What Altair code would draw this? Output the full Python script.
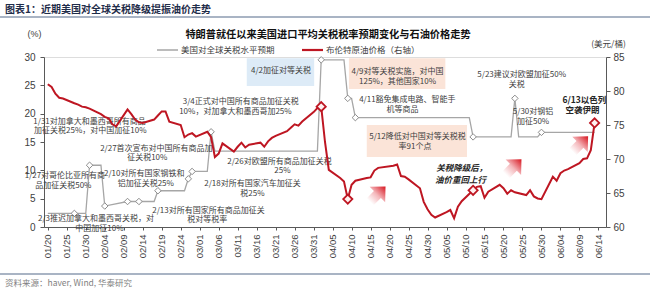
import altair as alt
import pandas as pd

# ---------------- data ----------------
oil_dates = [
    "2025-01-20", "2025-01-21", "2025-01-22", "2025-01-23", "2025-01-24",
    "2025-01-27", "2025-01-28", "2025-01-29", "2025-01-30", "2025-01-31",
    "2025-02-03", "2025-02-04", "2025-02-05", "2025-02-06", "2025-02-07",
    "2025-02-10", "2025-02-11", "2025-02-12", "2025-02-13", "2025-02-14",
    "2025-02-17", "2025-02-18", "2025-02-19", "2025-02-20", "2025-02-21",
    "2025-02-24", "2025-02-25", "2025-02-26", "2025-02-27", "2025-02-28",
    "2025-03-03", "2025-03-04", "2025-03-05", "2025-03-06", "2025-03-07",
    "2025-03-10", "2025-03-11", "2025-03-12", "2025-03-13", "2025-03-14",
    "2025-03-17", "2025-03-18", "2025-03-19", "2025-03-20", "2025-03-21",
    "2025-03-24", "2025-03-25", "2025-03-26", "2025-03-27", "2025-03-28",
    "2025-03-31", "2025-04-01", "2025-04-02", "2025-04-03", "2025-04-04",
    "2025-04-07", "2025-04-08", "2025-04-09", "2025-04-10", "2025-04-11",
    "2025-04-14", "2025-04-15", "2025-04-16", "2025-04-17",
    "2025-04-21", "2025-04-22", "2025-04-23", "2025-04-24", "2025-04-25",
    "2025-04-28", "2025-04-29", "2025-04-30", "2025-05-01", "2025-05-02",
    "2025-05-05", "2025-05-06", "2025-05-07", "2025-05-08", "2025-05-09",
    "2025-05-12", "2025-05-13", "2025-05-14", "2025-05-15", "2025-05-16",
    "2025-05-19", "2025-05-20", "2025-05-21", "2025-05-22", "2025-05-23",
    "2025-05-26", "2025-05-27", "2025-05-28", "2025-05-29", "2025-05-30",
    "2025-06-02", "2025-06-03", "2025-06-04", "2025-06-05", "2025-06-06",
    "2025-06-09", "2025-06-10", "2025-06-11", "2025-06-12", "2025-06-13",
]
oil_values = [
    81.0, 80.6, 79.6, 79.0, 78.9,
    78.2, 78.0, 77.7, 77.6, 77.4,
    76.6, 76.2, 76.0, 75.1, 74.8,
    77.3, 76.6, 75.8, 75.4, 75.3,
    75.8, 76.4, 77.0, 77.0, 75.5,
    75.0, 73.2, 73.6, 73.8, 73.3,
    74.0, 73.2, 70.3, 70.8, 72.3,
    71.1, 71.8, 72.4, 71.7, 72.1,
    72.4, 71.8, 72.6, 73.1, 73.4,
    74.1, 74.6, 75.1, 74.9, 75.5,
    76.9, 77.5, 77.7, 72.5, 68.4,
    67.2, 66.7, 64.1, 66.2, 66.8,
    67.2, 67.3, 68.3, 68.7,
    69.0, 69.2, 67.5, 67.4, 67.0,
    65.7, 63.7, 62.6, 61.8, 61.4,
    62.2, 62.5, 61.3, 63.0, 63.8,
    65.4, 65.9, 66.0, 64.3, 65.2,
    66.2, 65.7, 64.9, 65.4, 65.1,
    64.7, 65.4, 64.5, 64.2, 64.1,
    67.4, 66.8, 67.9, 68.3, 68.5,
    69.4, 70.0, 70.1, 71.3, 75.3,
]
oil_marker_dates = ["2025-04-02", "2025-04-09", "2025-05-12", "2025-06-13"]

tariff_dates = [
    "2025-01-20", "2025-01-27", "2025-01-30", "2025-01-31", "2025-02-03",
    "2025-02-04", "2025-02-10", "2025-02-13", "2025-02-17", "2025-02-18",
    "2025-02-25", "2025-02-26", "2025-02-27", "2025-03-03", "2025-03-04",
    "2025-03-05", "2025-04-01", "2025-04-02", "2025-04-08", "2025-04-09",
    "2025-04-10", "2025-04-11", "2025-05-11", "2025-05-12", "2025-05-22",
    "2025-05-23", "2025-05-24", "2025-05-29", "2025-05-30", "2025-06-13",
]
tariff_values = [
    2.4, 2.4, 2.4, 10.9, 10.9,
    3.7, 4.5, 4.5, 4.5, 6.4,
    6.4, 8.5, 9.8, 9.8, 16.8,
    13.4, 13.4, 29.5, 29.5, 22.7,
    22.7, 19.3, 19.3, 15.9, 15.9,
    22.7, 15.9, 15.9, 16.7, 16.7,
]
tariff_marker_dates = [
    "2025-01-27", "2025-01-31", "2025-02-04", "2025-02-10", "2025-02-13",
    "2025-02-18", "2025-02-26", "2025-02-27", "2025-03-04", "2025-04-02",
    "2025-04-09", "2025-04-11", "2025-05-12", "2025-05-23", "2025-05-30",
]

tick_dates = [
    "2025-01-20", "2025-01-25", "2025-01-30", "2025-02-04", "2025-02-09",
    "2025-02-14", "2025-02-19", "2025-02-24", "2025-03-01", "2025-03-06",
    "2025-03-11", "2025-03-16", "2025-03-21", "2025-03-26", "2025-03-31",
    "2025-04-05", "2025-04-10", "2025-04-15", "2025-04-20", "2025-04-25",
    "2025-04-30", "2025-05-05", "2025-05-10", "2025-05-15", "2025-05-20",
    "2025-05-25", "2025-05-30", "2025-06-04", "2025-06-09", "2025-06-14",
]
left_ticks = [0, 5, 10, 15, 20, 25, 30]
right_ticks = [60, 65, 70, 75, 80, 85]

# annotations: (days after 01/20, left-axis value, text)
notes_normal = [
    (11.0, 18.5, "1/31对加拿大和墨西哥所有商品"),
    (11.2, 16.9, "加征关税25%，对中国加征10%"),
    (28.6, 13.8, "2/27首次宣布对中国所有商品加"),
    (26.2, 12.2, "征关税10%"),
    (4.5, 9.0, "1/27对哥伦比亚所有商"),
    (4.1, 7.2, "品加征关税50%"),
    (25.4, 9.35, "2/10对所有国家钢铁和"),
    (25.8, 7.6, "铝加征关税25%"),
    (12.7, 1.4, "2/3推迟加拿大和墨西哥关税，对"),
    (13.6, -0.35, "中国加征10%"),
    (42.3, 2.8, "2/13对所有国家所有商品加征关"),
    (42.0, 1.2, "税对等税率"),
    (53.9, 7.6, "2/18对所有国家汽车加征关"),
    (53.9, 5.9, "税25%"),
    (61.0, 11.5, "2/26对欧盟所有商品加征关税"),
    (61.8, 9.9, "25%"),
    (50.8, 22.1, "3/4正式对中国所有商品加征关税"),
    (49.4, 20.3, "10%，对加拿大和墨西哥加25%"),
    (61.4, 27.6, "4/2加征对等关税"),
    (92.1, 27.35, "4/9对等关税实施，对中国"),
    (92.1, 25.6, "125%，其他国家10%"),
    (94.7, 22.4, "4/11豁免集成电路、智能手"),
    (93.4, 20.7, "机等商品"),
    (97.35, 15.9, "5/12降低对中国对等关税税"),
    (96.7, 14.1, "率91个点"),
    (124.8, 26.8, "5/23建议对欧盟加征50%"),
    (123.5, 25.0, "关税"),
    (127.8, 20.3, "5/30对钢铝"),
    (127.8, 18.5, "加征50%"),
]
notes_bold = [
    (141.3, 22.4, "6/13以色列"),
    (140.8, 20.65, "空袭伊朗"),
]
notes_italic = [
    (102.3, 10.4, "关税降级后，"),
    (101.95, 8.3, "油价重回上行"),
]
# shaded boxes: (start day, end day, low, high, colour)
boxes = [
    (52.4, 70.15, 24.9, 29.8, "#DDEBF7"),
    (79.3, 104.7, 24.35, 29.8, "#FBE4D8"),
    (84.0, 110.4, 12.35, 18.0, "#FBE4D8"),
]
# decorative arrows: (day, left-axis value)
arrows = [(86.9, 5.8), (122.7, 10.6), (140.25, 14.65)]

# ---------------- helpers ----------------
BASE = pd.Timestamp("2025-01-20")
FONT = "Noto Sans CJK SC"
RED = "#BE1622"
GRAY = "#A6A6A6"
TXT = "#404040"


def iso(day):
    return (BASE + pd.Timedelta(days=day)).strftime("%Y-%m-%dT%H:%M:%SZ")


def ms(s):
    return int(pd.Timestamp(s).value // 10**6)


xscale = alt.Scale(type="utc", domain=[ms("2025-01-19"), ms("2025-06-16")])
yL = alt.Scale(domain=[0, 30], nice=False, zero=False)
yR = alt.Scale(domain=[60, 85], nice=False, zero=False)

xaxis = alt.Axis(values=[ms(d) for d in tick_dates],
                 labelExpr="utcFormat(datum.value, '%m/%d')",
                 labelAngle=-90, labelFontSize=9.5, labelColor=TXT, labelFont="Liberation Sans",
                 tickSize=3, labelPadding=4, domainColor="#595959", tickColor="#595959",
                 grid=False, title=None, labelOverlap=False)
laxis = alt.Axis(values=left_ticks, orient="left", labelFontSize=10, labelColor=TXT,
                 labelFont="Liberation Sans", tickSize=4, labelPadding=5,
                 domainColor="#595959", tickColor="#595959", grid=False,
                 title="(%)", titleAngle=0, titleX=-10, titleY=-24, titleAlign="center",
                 titleBaseline="middle", titleFontWeight="normal", titleFontSize=9,
                 titleColor=TXT, titleFont="Liberation Sans")
raxis = alt.Axis(values=right_ticks, orient="right", labelFontSize=10, labelColor=TXT,
                 labelFont="Liberation Sans", tickSize=4, labelPadding=3,
                 domainColor="#595959", tickColor="#595959", grid=False,
                 title="(美元/桶)", titleAngle=0, titleX=2, titleY=-14, titleAlign="center",
                 titleBaseline="middle", titleFontWeight="normal", titleFontSize=8.5,
                 titleColor=TXT, titleFont=FONT)

oil_df = pd.DataFrame({"date": oil_dates, "value": oil_values})
oil_mk = oil_df[oil_df["date"].isin(oil_marker_dates)]
tar_df = pd.DataFrame({"date": tariff_dates, "value": tariff_values})
tar_mk = tar_df[tar_df["date"].isin(tariff_marker_dates)]


def note_df(notes):
    return pd.DataFrame({"x": [iso(n[0]) for n in notes],
                         "y": [n[1] for n in notes],
                         "text": [n[2] for n in notes]})


box_df = pd.DataFrame({"x1": [iso(b[0]) for b in boxes], "x2": [iso(b[1]) for b in boxes],
                       "y1": [b[2] for b in boxes], "y2": [b[3] for b in boxes],
                       "c": [b[4] for b in boxes]})
arrow_df = pd.DataFrame({"x": [iso(a[0]) for a in arrows], "y": [a[1] for a in arrows]})


def XX(f):
    return alt.X(f, scale=xscale, axis=xaxis)


def YL(f):
    return alt.Y(f, scale=yL, axis=laxis)


def YR(f):
    return alt.Y(f, scale=yR, axis=raxis)


# ---------------- left-axis layers ----------------
box_layer = alt.Chart(box_df).mark_rect().encode(
    x=XX("x1:T"), x2="x2:T", y=YL("y1:Q"), y2="y2:Q",
    color=alt.Color("c:N", scale=None))

tar_line = alt.Chart(tar_df).mark_line(color=GRAY, strokeWidth=1.3).encode(
    x=XX("date:T"), y=YL("value:Q"))
tar_pts = alt.Chart(tar_mk).mark_point(shape="diamond", filled=True, fill="white",
                                       stroke="#8C8C8C", strokeWidth=1, size=42, opacity=1).encode(
    x=XX("date:T"), y=YL("value:Q"))


def text_layer(notes, **kw):
    return alt.Chart(note_df(notes)).mark_text(font=FONT, baseline="middle", **kw).encode(
        x=XX("x:T"), y=YL("y:Q"), text="text:N")


t_norm = text_layer(notes_normal, fontSize=8, color=TXT, align="center")
t_bold = text_layer(notes_bold, fontSize=8.5, color="#262626", fontWeight="bold", align="center")
t_ital = text_layer(notes_italic, fontSize=8.5, color="#262626", fontWeight="bold",
                    fontStyle="italic", align="left")

arrow_shape = "M -0.45 1 L -0.45 0.05 L -1 0.05 L 0 -1 L 1 0.05 L 0.45 0.05 L 0.45 1 Z"
grad = alt.Gradient(gradient="linear", x1=0, y1=1, x2=0, y2=0,
                    stops=[alt.GradientStop(offset=0, color="#FFFFFF"),
                           alt.GradientStop(offset=0.45, color="#F4B7BB"),
                           alt.GradientStop(offset=1, color="#D7141E")])
arrow_layer = alt.Chart(arrow_df).mark_point(shape=arrow_shape, filled=True, fill=grad,
                                             strokeWidth=0, size=480, angle=45, opacity=1).encode(
    x=XX("x:T"), y=YL("y:Q"))

left = alt.layer(box_layer, tar_line, tar_pts, t_norm, t_bold, t_ital, arrow_layer)

# ---------------- right-axis layers ----------------
oil_line = alt.Chart(oil_df).mark_line(color=RED, strokeWidth=2).encode(
    x=XX("date:T"), y=YR("value:Q"))
oil_pts = alt.Chart(oil_mk).mark_point(shape="diamond", filled=True, fill="#FFF0F0",
                                       stroke=RED, strokeWidth=1.8, size=85, opacity=1).encode(
    x=XX("date:T"), y=YR("value:Q"))
right = alt.layer(oil_line, oil_pts)

# ---------------- static texts / decorations (pixel positions) ----------------
one = pd.DataFrame({"k": [0]})


def stext(txt, x, y, **kw):
    return alt.Chart(one).mark_text(text=txt, font=FONT, baseline="middle", **kw).encode(
        x=alt.value(x), y=alt.value(y))


def srule(x, x2, y, color, w):
    return alt.Chart(one).mark_rule(color=color, strokeWidth=w).encode(
        x=alt.value(x), x2=alt.value(x2), y=alt.value(y))


deco = [
    stext("图表1：近期美国对全球关税降级提振油价走势", -39, -47, align="left",
          fontSize=10, fontWeight="bold", color="#1F2D4A"),
    srule(-44, 606, -40, "#8C9BB0", 1.5),
    stext("特朗普就任以来美国进口平均关税税率预期变化与石油价格走势", 284, -22, align="center",
          fontSize=10.2, fontWeight="bold", color="#111111"),
    srule(113, 134, -7, GRAY, 1.5),
    stext("美国对全球关税水平预期", 137, -7, align="left", fontSize=8.5, color=TXT),
    srule(258, 279, -7, RED, 2.2),
    stext("布伦特原油价格（右轴）", 282, -7, align="left", fontSize=8.5, color=TXT),
    srule(-44, 606, 217, "#8C9BB0", 1.5),
    stext("资料来源：haver, Wind, 华泰研究", -39, 226, align="left", fontSize=8.5,
          color="#7F7F7F"),
]

chart = alt.layer(left, right, *deco).resolve_scale(y="independent").properties(
    width=562, height=170,
    padding={"left": 44, "top": 57, "right": 44, "bottom": 64},
    autosize=alt.AutoSizeParams(type="none"),
).configure_view(stroke=None).configure(background="white")

chart.save("out.html", embed_options={"renderer": "svg", "actions": False})
